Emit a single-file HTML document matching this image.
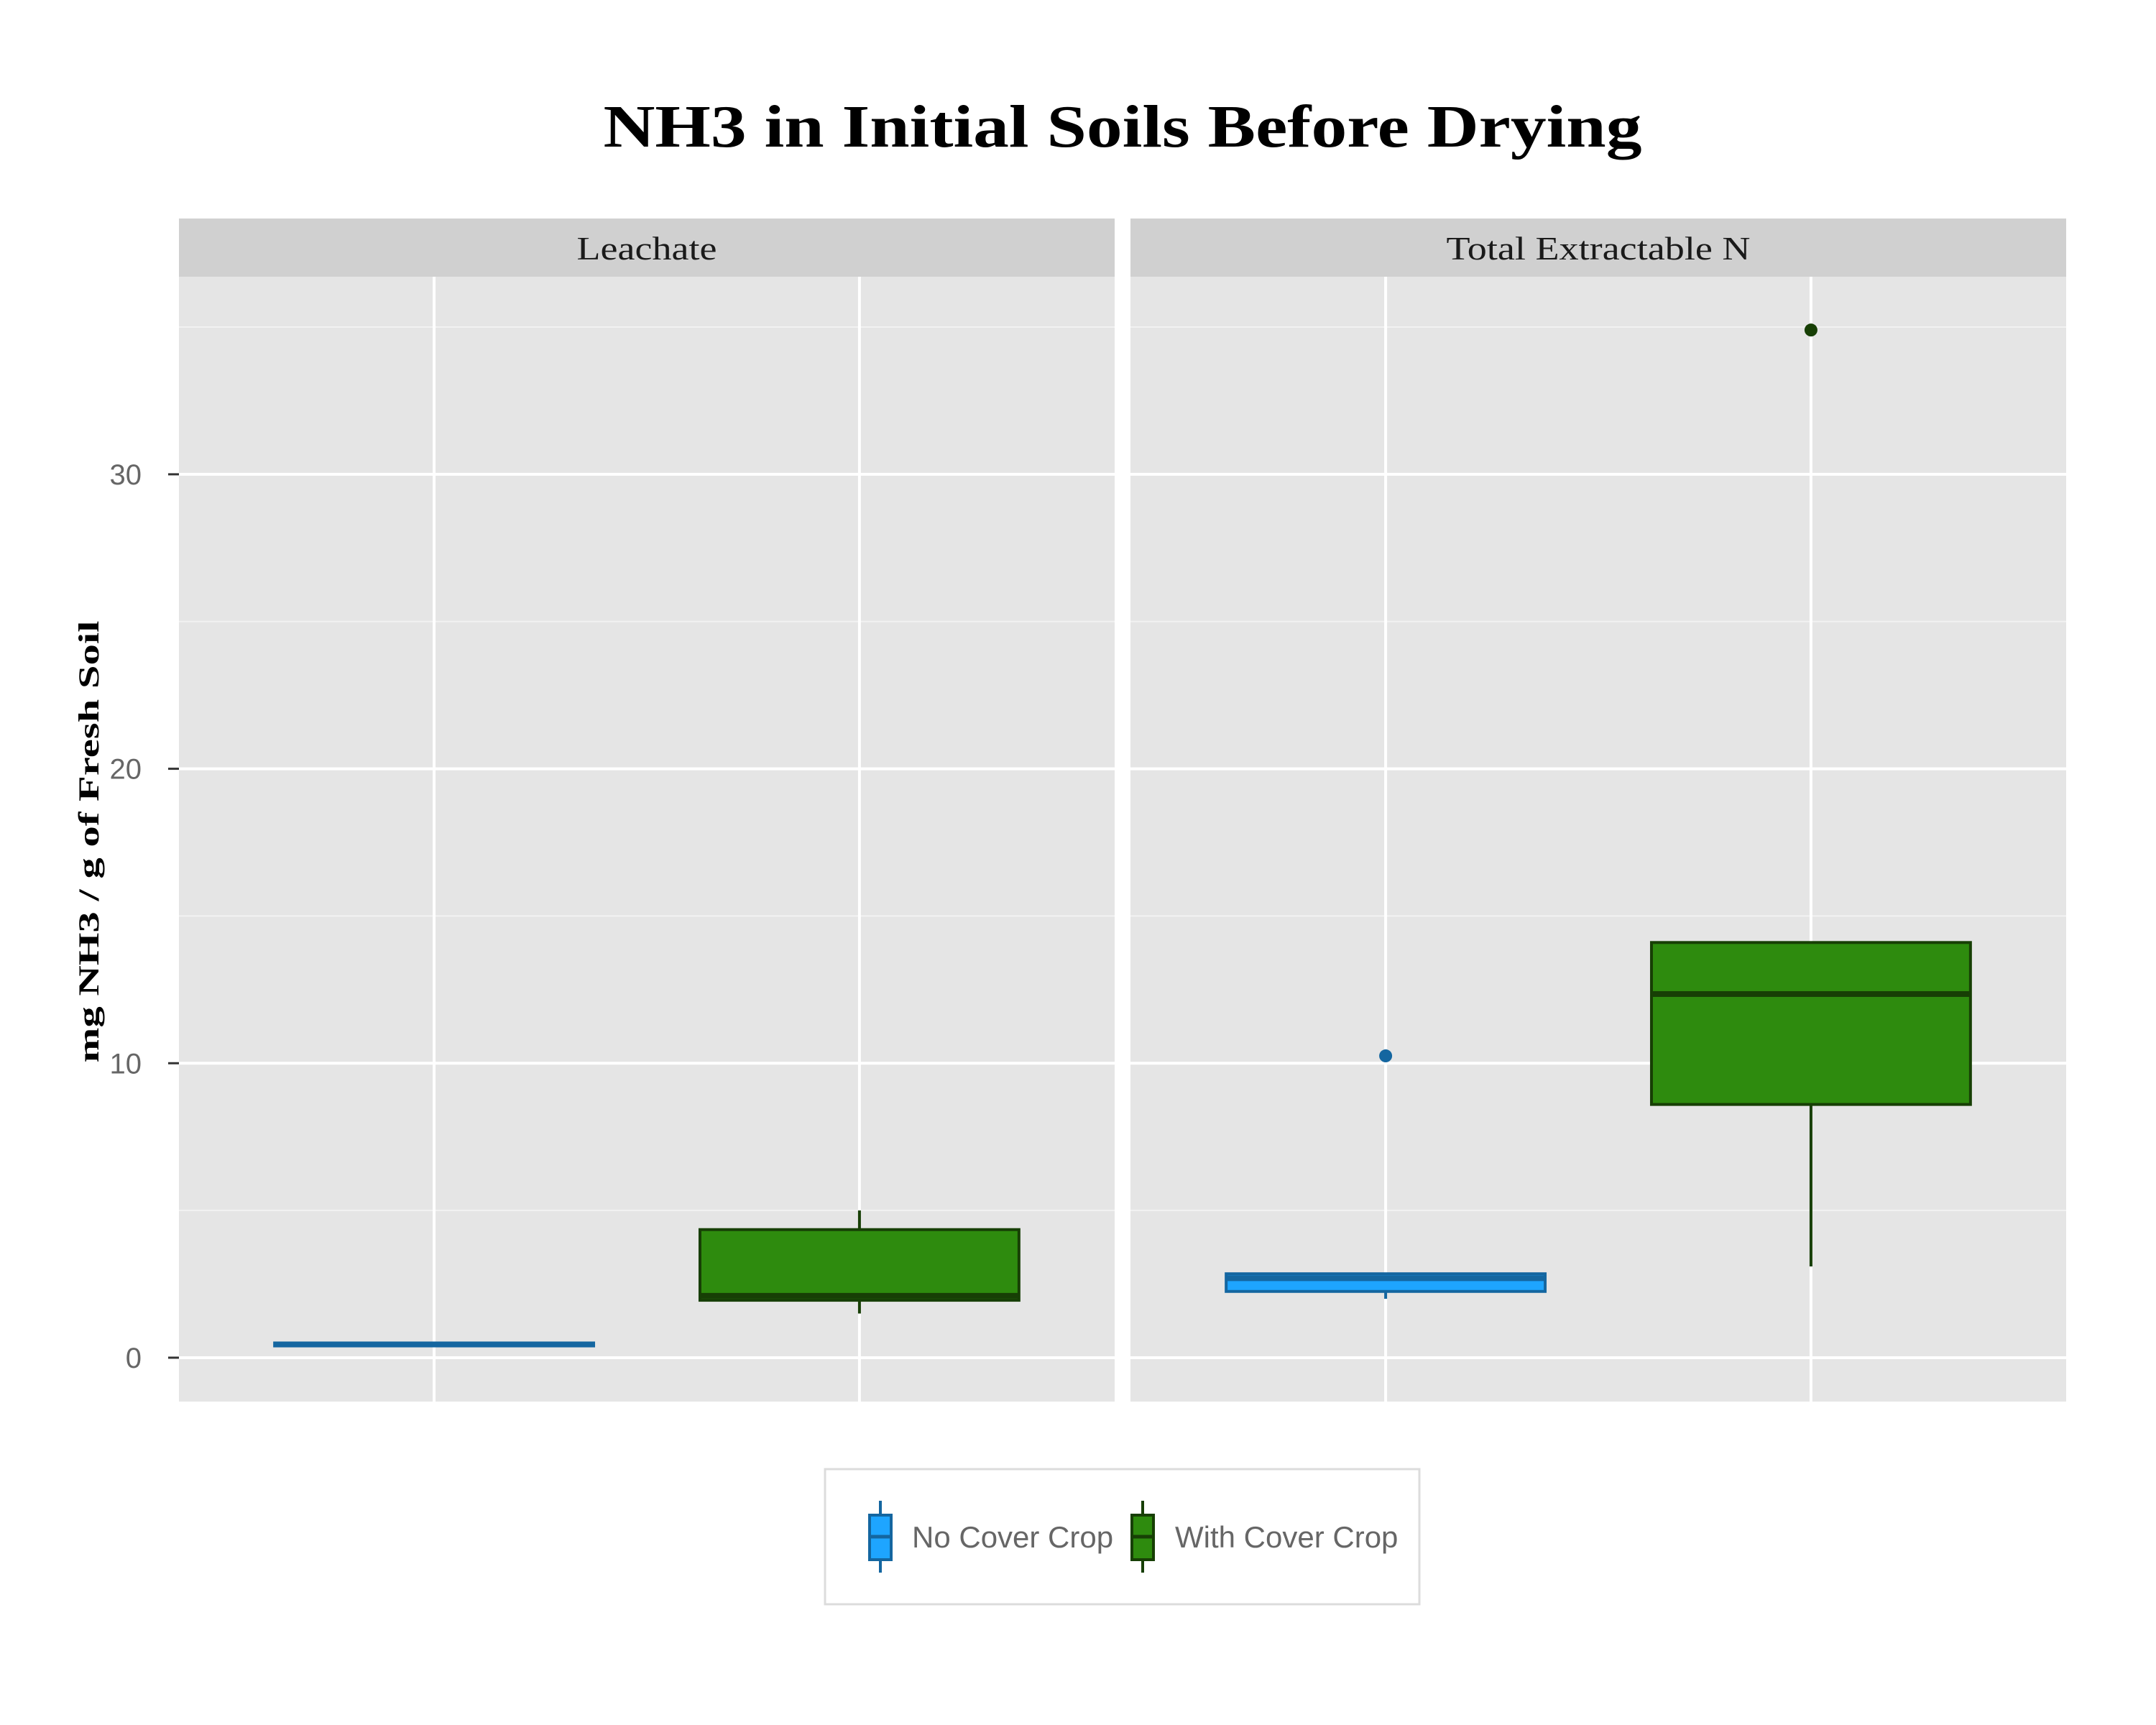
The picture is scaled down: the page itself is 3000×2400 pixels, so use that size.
<!DOCTYPE html>
<html><head><meta charset="utf-8"><style>
html,body{margin:0;padding:0;background:#fff;}
svg{display:block;}
</style></head><body>
<svg id="chart" xmlns="http://www.w3.org/2000/svg" width="3000" height="2400" viewBox="0 0 3000 2400">
<text x="1562" y="204" text-anchor="middle" font-family="Liberation Serif, serif" font-weight="bold" font-size="84" textLength="1445" lengthAdjust="spacingAndGlyphs" fill="#000">NH3 in Initial Soils Before Drying</text>
<text transform="translate(137,1171) rotate(-90)" text-anchor="middle" font-family="Liberation Serif, serif" font-weight="bold" font-size="40" textLength="615" lengthAdjust="spacingAndGlyphs" fill="#000">mg NH3 / g of Fresh Soil</text>
<g id="plots"></g>
<g>
<rect x="1148" y="2044" width="827" height="188" fill="#fff" stroke="#dcdcdc" stroke-width="3"/>
<g>
<line x1="1225" y1="2088" x2="1225" y2="2188" stroke="#1466a0" stroke-width="4"/>
<rect x="1210" y="2108" width="30" height="62" fill="#1ea5ff" stroke="#1466a0" stroke-width="4"/>
<line x1="1210" y1="2138" x2="1240" y2="2138" stroke="#1466a0" stroke-width="5"/>
<text x="1269" y="2153" font-family="Liberation Sans, sans-serif" font-size="42" fill="#666">No Cover Crop</text>
</g>
<g>
<line x1="1590" y1="2088" x2="1590" y2="2188" stroke="#173f05" stroke-width="4"/>
<rect x="1575" y="2108" width="30" height="62" fill="#2e8b0e" stroke="#173f05" stroke-width="4"/>
<line x1="1575" y1="2138" x2="1605" y2="2138" stroke="#173f05" stroke-width="5"/>
<text x="1635" y="2153" font-family="Liberation Sans, sans-serif" font-size="42" fill="#666">With Cover Crop</text>
</g>
</g>
</svg>
<script>
const panels = ["Leachate", "Total Extractable N"];
const groups = ["No Cover Crop", "With Cover Crop"];
const yTicks = [0, 10, 20, 30];
const yMinor = [5, 15, 25, 35];
// per panel, per group: [lowerWhisker, q1, median, q3, upperWhisker]
const leachateStats = [[0.4, 0.4, 0.45, 0.5, 0.5], [1.5, 1.95, 2.1, 4.35, 5.0]];
const totalStats = [[2.0, 2.25, 2.7, 2.85, 2.85], [3.1, 8.6, 12.35, 14.1, 14.1]];
const leachateOutliers = [[], []];
const totalOutliers = [[10.25], [34.9]];

const NS = "http://www.w3.org/2000/svg";
const root = document.getElementById("plots");
const panelX = [249, 1573], panelW = 1302, plotTop = 385, plotBottom = 1950;
const stripWidths = [195, 423];
const yDom = [-1.49, 36.71];
function y(v){ return plotBottom - (v - yDom[0]) / (yDom[1] - yDom[0]) * (plotBottom - plotTop); }
function x(p, i){ return panelX[p] + (i + 1 - 0.4) / 2.2 * panelW; }
function mk(tag, attrs, parent){ const e = document.createElementNS(NS, tag); for (const k in attrs) e.setAttribute(k, attrs[k]); (parent||root).appendChild(e); return e; }
const fills = ["#1ea5ff", "#2e8b0e"], strokes = ["#1466a0", "#173f05"];
const allStats = [leachateStats, totalStats], allOut = [leachateOutliers, totalOutliers];

panels.forEach((name, p) => {
  const g = mk("g", {});
  
  
  const bg = mk("rect", {x: panelX[p], y: plotTop, width: panelW, height: plotBottom - plotTop, fill: "#e5e5e5"}, g);
  
  
  const st = mk("rect", {x: panelX[p], y: 304, width: panelW, height: plotTop - 304, fill: "#d0d0d0"}, g);
  
  
  const stt = mk("text", {x: panelX[p] + panelW / 2, y: 361, "text-anchor": "middle", "font-family": "Liberation Serif, serif", "font-size": "46", textLength: stripWidths[p], lengthAdjust: "spacingAndGlyphs", fill: "#1a1a1a"}, g);
  stt.textContent = name;
  
  
  yMinor.forEach(v => { const l = mk("line", {x1: panelX[p], x2: panelX[p] + panelW, y1: y(v), y2: y(v), stroke: "#f2f2f2", "stroke-width": 2}, g);
    
     });
  yTicks.forEach(v => { const l = mk("line", {x1: panelX[p], x2: panelX[p] + panelW, y1: y(v), y2: y(v), stroke: "#fff", "stroke-width": 4}, g);
    
     });
  groups.forEach((gr, i) => { const l = mk("line", {x1: x(p, i), x2: x(p, i), y1: plotTop, y2: plotBottom, stroke: "#fff", "stroke-width": 4}, g);
    
     });
  groups.forEach((gr, i) => {
    const s = allStats[p][i], cx = x(p, i), hw = 0.375 / 2.2 * panelW;
    const bx = mk("g", {}, g);
    
    
    mk("line", {x1: cx, x2: cx, y1: y(s[0]), y2: y(s[1]), stroke: strokes[i], "stroke-width": 4}, bx);
    mk("line", {x1: cx, x2: cx, y1: y(s[3]), y2: y(s[4]), stroke: strokes[i], "stroke-width": 4}, bx);
    mk("rect", {x: cx - hw, y: y(s[3]), width: 2 * hw, height: Math.max(y(s[1]) - y(s[3]), 0.5), fill: fills[i], stroke: strokes[i], "stroke-width": 4}, bx);
    mk("line", {x1: cx - hw, x2: cx + hw, y1: y(s[2]), y2: y(s[2]), stroke: strokes[i], "stroke-width": 8}, bx);
    allOut[p][i].forEach(v => { const c = mk("circle", {cx: cx, cy: y(v), r: 9, fill: strokes[i]}, bx);
      
       });
  });
});
yTicks.forEach(v => {
  const t = mk("line", {x1: 234, x2: 249, y1: y(v), y2: y(v), stroke: "#333", "stroke-width": 3});
  
  
  const l = mk("text", {x: 197, y: y(v) + 14, "text-anchor": "end", "font-family": "Liberation Sans, sans-serif", "font-size": "40", fill: "#666"});
  l.textContent = v;
  
  
});
</script>
</body></html>
